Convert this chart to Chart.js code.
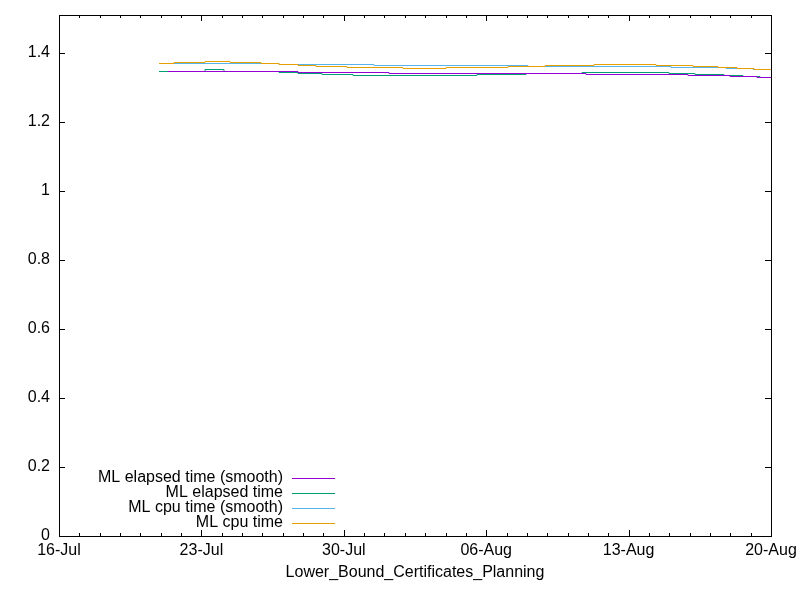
<!DOCTYPE html>
<html>
<head>
<meta charset="utf-8">
<script src="https://cdn.jsdelivr.net/npm/chart.js@4.4.1/dist/chart.umd.min.js"></script>
<style>
  html, body { margin: 0; padding: 0; background: #fff; }
</style>
</head>
<body>
<canvas id="chart" width="800" height="600"></canvas>
<script>
// x values are days counted from 16-Jul
var tickLabels = ["16-Jul", "23-Jul", "30-Jul", "06-Aug", "13-Aug", "20-Aug"];

var elapsedSmoothDays = [5.36, 9.59, 11.75, 16.22, 25.91, 30.92, 32.99, 34.31, 35];
var elapsedSmoothValues = [1.347, 1.345, 1.343, 1.340, 1.337, 1.334, 1.331, 1.328, 1.328];

var elapsedDays = [4.92, 5.36, 7.18, 8.11, 9.59, 10.82, 11.75, 12.93, 14.45, 20.55, 22.96, 25.71, 29.99, 31.26, 32.69, 33.62, 34.46, 35];
var elapsedValues = [1.345, 1.347, 1.351, 1.347, 1.345, 1.343, 1.340, 1.337, 1.334, 1.337, 1.340, 1.343, 1.340, 1.337, 1.334, 1.331, 1.328, 1.328];

var cpuSmoothDays = [4.92, 10.82, 15.49, 23.06, 30.09, 32.79, 34.12, 35];
var cpuSmoothValues = [1.369, 1.366, 1.363, 1.360, 1.357, 1.354, 1.351, 1.351];

var cpuDays = [4.92, 5.65, 7.18, 8.41, 9.93, 10.82, 11.75, 12.63, 14.16, 16.91, 19.02, 22.07, 23.89, 26.30, 29.35, 31.17, 32.40, 33.33, 34.17, 35];
var cpuValues = [1.369, 1.372, 1.375, 1.372, 1.369, 1.366, 1.363, 1.360, 1.357, 1.354, 1.357, 1.360, 1.363, 1.366, 1.363, 1.360, 1.357, 1.354, 1.351, 1.351];

function points(days, values) {
  return days.map(function (d, i) { return { x: d, y: values[i] }; });
}

function series(label, days, values, color, order) {
  return {
    label: label,
    data: points(days, values),
    borderColor: color,
    backgroundColor: color,
    borderWidth: 1,
    pointRadius: 0,
    stepped: true,
    fill: false,
    order: order
  };
}

var font = { family: "'Liberation Sans', Arial, sans-serif", size: 16 };

// put the step lines on pixel centres so they come out crisp like gnuplot's
var snap = {
  id: "snap",
  beforeDatasetsDraw: function (chart) {
    chart.getSortedVisibleDatasetMetas().forEach(function (meta) {
      meta.data.forEach(function (p) {
        p.x = Math.round(p.x);
        p.y = Math.round(p.y - 0.5) + 0.5;
      });
      if (meta.dataset) meta.dataset._path = undefined;
    });
  }
};

// gnuplot-style box with inward ticks, mirrored on all sides
var frame = {
  id: "frame",
  afterDatasetsDraw: function (chart) {
    var ctx = chart.ctx, a = chart.chartArea;
    var xs = chart.scales.x, ys = chart.scales.y;
    ctx.save();
    ctx.strokeStyle = "#000";
    ctx.lineWidth = 1;
    ctx.beginPath();
    for (var d = xs.min; d <= xs.max; d++) {
      var px = Math.round(xs.getPixelForValue(d)) + 0.5;
      var len = d % 7 === 0 ? 6 : 3;
      ctx.moveTo(px, a.bottom); ctx.lineTo(px, a.bottom - len);
      ctx.moveTo(px, a.top); ctx.lineTo(px, a.top + len);
    }
    ys.ticks.forEach(function (t) {
      var py = Math.round(ys.getPixelForValue(t.value)) + 0.5;
      ctx.moveTo(a.left, py); ctx.lineTo(a.left + 6, py);
      ctx.moveTo(a.right, py); ctx.lineTo(a.right - 6, py);
    });
    ctx.stroke();
    ctx.strokeRect(a.left + 0.5, a.top + 0.5, a.right - a.left, a.bottom - a.top);
    ctx.restore();
  }
};

// key in the lower left corner: text right-aligned, sample line to its right
var key = {
  id: "key",
  afterDraw: function (chart) {
    var ctx = chart.ctx, a = chart.chartArea;
    ctx.save();
    ctx.font = font.size + "px " + font.family;
    ctx.textAlign = "right";
    ctx.textBaseline = "middle";
    chart.data.datasets.forEach(function (ds, i) {
      var y = a.bottom - 58 + i * 15;
      ctx.fillStyle = "#000";
      ctx.fillText(ds.label, a.left + 224, y);
      ctx.strokeStyle = ds.borderColor;
      ctx.lineWidth = 1;
      ctx.beginPath();
      ctx.moveTo(a.left + 233, y + 0.5);
      ctx.lineTo(a.left + 276, y + 0.5);
      ctx.stroke();
    });
    ctx.restore();
  }
};

new Chart(document.getElementById("chart"), {
  type: "line",
  data: {
    datasets: [
      series("ML elapsed time (smooth)", elapsedSmoothDays, elapsedSmoothValues, "#9400d3", 3),
      series("ML elapsed time", elapsedDays, elapsedValues, "#009e73", 4),
      series("ML cpu time (smooth)", cpuSmoothDays, cpuSmoothValues, "#56b4e9", 2),
      series("ML cpu time", cpuDays, cpuValues, "#e69f00", 1)
    ]
  },
  options: {
    responsive: false,
    animation: false,
    devicePixelRatio: 1,
    layout: { padding: { left: 0, right: 29, top: 15, bottom: 0 } },
    plugins: { legend: { display: false }, tooltip: { enabled: false } },
    scales: {
      x: {
        type: "linear",
        min: 0,
        max: 35,
        grid: { display: false, drawTicks: false },
        border: { display: false },
        ticks: {
          stepSize: 7,
          padding: 5,
          color: "#000",
          font: font,
          maxRotation: 0,
          callback: function (v) { return tickLabels[Math.round(v / 7)]; }
        },
        title: {
          display: true,
          text: "Lower_Bound_Certificates_Planning",
          color: "#000",
          font: font,
          padding: { top: 2, bottom: 18 }
        },
        afterFit: function (s) {
          s.height = 64;
          s.paddingLeft = 0; s.paddingRight = 0;
        }
      },
      y: {
        min: 0,
        max: 1.51,
        grid: { display: false, drawTicks: false },
        border: { display: false },
        ticks: {
          stepSize: 0.2,
          padding: 9,
          color: "#000",
          font: font,
          callback: function (v) { return String(+v.toFixed(1)); }
        },
        afterBuildTicks: function (s) {
          s.ticks = s.ticks.filter(function (t) { return t.value <= 1.41; });
        },
        afterFit: function (s) {
          s.width = 59;
          s.paddingTop = 0; s.paddingBottom = 0;
        }
      }
    }
  },
  plugins: [snap, frame, key]
});
</script>
</body>
</html>
